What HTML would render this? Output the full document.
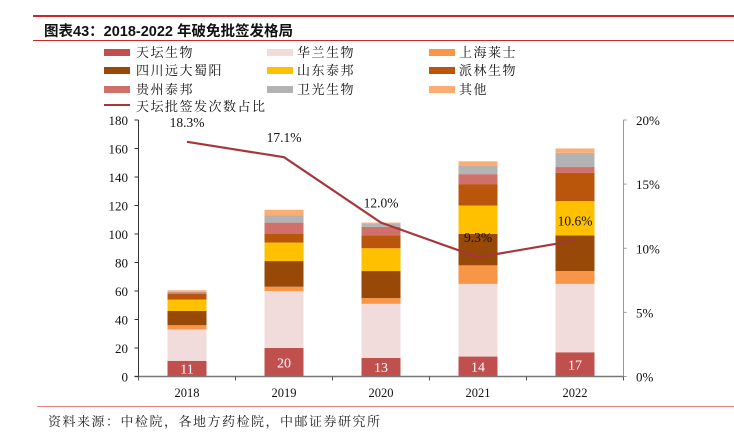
<!DOCTYPE html>
<html><head><meta charset="utf-8">
<style>
html,body{margin:0;padding:0;background:#fff;}
body{width:734px;height:441px;overflow:hidden;position:relative;font-family:"Liberation Serif","Noto Serif CJK SC",serif;}
.abs{position:absolute;}
.title{left:44px;top:20px;font-family:"Liberation Sans","Noto Sans CJK SC",sans-serif;font-weight:bold;font-size:14.5px;color:#111;}
.leg{font-family:"Liberation Serif","Noto Serif CJK SC",serif;font-size:13px;color:#111;letter-spacing:1.5px;}
.sw{position:absolute;width:26px;height:7px;}
</style></head>
<body>
<div class="abs" style="left:33px;top:15px;width:701px;height:2px;background:#d0242a;"></div>
<div class="abs title">图表43：2018-2022 年破免批签发格局</div>
<div class="abs" style="left:33px;top:40px;width:701px;height:1px;background:#d0242a;"></div>
<div id="legend"></div>
<svg id="chart" class="abs" style="left:0;top:0" width="734" height="441"></svg>
<div class="abs" style="left:37px;top:406px;width:697px;height:1px;background:#e08080;"></div>
<div class="abs" style="left:48px;top:411px;font-family:'Liberation Serif','Noto Serif CJK SC',serif;font-size:13px;color:#222;letter-spacing:1.5px;">资料来源：中检院，各地方药检院，中邮证券研究所</div>
<script>
const categories=["2018","2019","2020","2021","2022"];
const seriesNames=["天坛生物","华兰生物","上海莱士","四川远大蜀阳","山东泰邦","派林生物","贵州泰邦","卫光生物","其他"];
const tiantan=[11,20,13,14,17];
const hualan=[22,40,38,51,48];
const shanghai=[3,3,4,13,9];
const shuyang=[10,18,19,22,25];
const taibang=[8,13,16,20,24];
const pailin=[4,6,9,15,20];
const guizhou=[1,8,6,7,4];
const weiguang=[0.5,5,2,6,10];
const others=[1,4,1,3,3];
const sharePct=[18.3,17.1,12.0,9.3,10.6];
const leftTicks=[0,20,40,60,80,100,120,140,160,180];
const rightTicks=[0,5,10,15,20];
const colors=["#c0504d","#f2dcdb","#f79646","#984807","#ffc000","#b9560b","#d0706b","#b3b3b3","#fbad72"];
const series=[tiantan,hualan,shanghai,shuyang,taibang,pailin,guizhou,weiguang,others];

const NS="http://www.w3.org/2000/svg";
const svg=document.getElementById('chart');
const X0=138.5,X1=623.5,Y0=376.5,Y1=120;
const band=(X1-X0)/categories.length;
const yL=v=>Y0-(v/180)*(Y0-Y1);
const yR=v=>Y0-(v/20)*(Y0-Y1);
const xC=i=>X0+band*(i+0.5);
function mk(t,a){const e=document.createElementNS(NS,t);for(const k in a)e.setAttribute(k,a[k]);svg.appendChild(e);return e;}

categories.forEach((c,i)=>{
  let acc=0;
  series.forEach((s,k)=>{
    const v=s[i];const y=yL(acc+v),h=yL(acc)-yL(acc+v);
    const r=mk('rect',{x:xC(i)-19.5,y:y,width:39,height:h,fill:colors[k]});
    
    
    acc+=v;
  });
  const t=mk('text',{x:xC(i),y:yL(tiantan[i]/2)+5,'text-anchor':'middle','font-size':14,fill:'#fff'});
  t.textContent=tiantan[i];
  
  
  const xl=mk('text',{x:xC(i),y:397,'text-anchor':'middle','font-size':12.5,fill:'#111'});
  xl.textContent=c;
  
  
});
let ax=mk('line',{x1:X0,y1:Y1,x2:X0,y2:Y0,stroke:'#333','stroke-width':1});

ax=mk('line',{x1:X1,y1:Y1,x2:X1,y2:Y0,stroke:'#999','stroke-width':1});

ax=mk('line',{x1:X0-4,y1:Y0,x2:X1,y2:Y0,stroke:'#777','stroke-width':1.5});

for(let i=0;i<=categories.length;i++){mk('line',{x1:X0+band*i,y1:Y0,x2:X0+band*i,y2:Y0+4,stroke:'#555'});}
leftTicks.forEach(v=>{
  mk('line',{x1:X0-4,y1:yL(v),x2:X0,y2:yL(v),stroke:'#333'});
  const t=mk('text',{x:128,y:yL(v)+5,'text-anchor':'end','font-size':13,fill:'#111'});
  t.textContent=v;
  
  
});
rightTicks.forEach(v=>{
  mk('line',{x1:X1,y1:yR(v),x2:X1+3,y2:yR(v),stroke:'#999'});
  const t=mk('text',{x:636,y:yR(v)+5,'font-size':13,fill:'#111'});
  t.textContent=v+'%';
  
  
});
const pts=sharePct.map((v,i)=>xC(i)+','+yR(v)).join(' ');
const pl=mk('polyline',{points:pts,fill:'none',stroke:'#a5373a','stroke-width':2.2});


sharePct.forEach((v,i)=>{
  const t=mk('text',{x:xC(i),y:yR(v)-15,'text-anchor':'middle','font-size':13.5,fill:'#111'});
  t.textContent=v.toFixed(1)+'%';
  
  
});
const leg=document.getElementById('legend');
const cols=[[104,136],[267,297],[429,459]];
seriesNames.forEach((n,k)=>{
  const r=Math.floor(k/3),c=k%3;
  const y=45+r*18.3;
  const s=document.createElement('div');s.className='sw';
  s.style.left=cols[c][0]+'px';s.style.top=(y+4)+'px';s.style.background=colors[k];
  
  
  leg.appendChild(s);
  const t=document.createElement('div');t.className='abs leg';
  t.style.left=cols[c][1]+'px';t.style.top=(y-3)+'px';t.textContent=n;
  
  
  leg.appendChild(t);
});
const ls=document.createElement('div');ls.className='sw';
ls.style.cssText='left:104px;top:104px;height:2px;background:#a5373a;';


leg.appendChild(ls);
const lt=document.createElement('div');lt.className='abs leg';
lt.style.left='136px';lt.style.top='96px';lt.textContent='天坛批签发次数占比';


leg.appendChild(lt);
</script>
</body></html>
